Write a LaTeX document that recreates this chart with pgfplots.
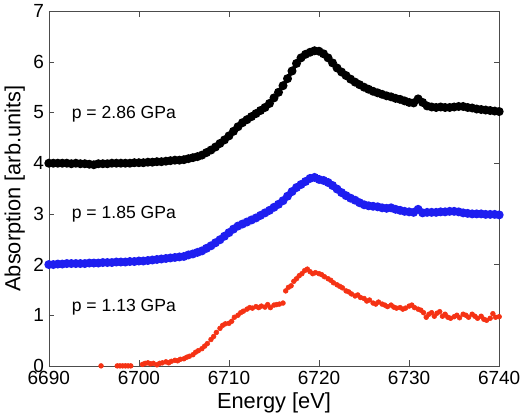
\documentclass[border=0pt]{standalone}
\usepackage{pgfplots}
\pgfplotsset{compat=1.18}
\usepackage{fontspec}
\setmainfont{Liberation Sans}
\definecolor{mblue}{RGB}{30,30,240}
\definecolor{mred}{RGB}{245,50,20}

\begin{document}
\begin{tikzpicture}
\begin{axis}[
  width=320pt, height=252pt, scale only axis,
  xmin=6690, xmax=6740, ymin=0, ymax=7,
  xtick={6690,6700,...,6740}, ytick={0,1,...,7},
  tick align=inside, tick pos=both,
  major tick length=4pt,
  axis line style={black!70},
  tick style={black!70},
  /pgf/number format/assume math mode=true,
  /pgf/number format/1000 sep={},
  tick label style={font=\fontsize{13.5}{15}\selectfont},
  label style={font=\fontsize{15.5}{17}\selectfont},
  xlabel={Energy [eV]}, ylabel={Absorption [arb.units]},
  xlabel style={yshift=1pt}, ylabel style={yshift=-1pt},
  clip=false,
]
\addplot[black, line width=2.8pt, mark=*, mark size=1.7pt] coordinates {
(6690,4.00) (6690.5,4.00) (6691,4.00) (6691.5,4.00) (6692,4.00) (6692.5,3.99)
(6693,4.00) (6693.5,3.99) (6694,3.99) (6694.5,3.98) (6695,3.97) (6695.5,3.99)
(6696,3.99) (6696.5,3.99) (6697,4.00) (6697.5,4.00) (6698,4.00) (6698.5,4.00)
(6699,4.00) (6699.5,4.01) (6700,4.01) (6700.5,4.01) (6701,4.02) (6701.5,4.02)
(6702,4.03) (6702.5,4.03) (6703,4.04) (6703.5,4.05) (6704,4.06) (6704.5,4.06)
(6705,4.07) (6705.5,4.09) (6706,4.11) (6706.5,4.13) (6707,4.16) (6707.5,4.21)
(6708,4.26) (6708.5,4.32) (6709,4.39) (6709.5,4.46) (6710,4.54) (6710.5,4.63)
(6711,4.72) (6711.5,4.80) (6712,4.86) (6712.5,4.92) (6713,4.98) (6713.5,5.04)
(6714,5.10) (6714.5,5.18) (6715,5.29) (6715.5,5.40) (6716,5.53) (6716.5,5.67)
(6717,5.82) (6717.5,5.97) (6718,6.08) (6718.5,6.15) (6719,6.19) (6719.5,6.22)
(6720,6.21) (6720.5,6.16) (6721,6.08) (6721.5,5.98) (6722,5.88) (6722.5,5.80)
(6723,5.73) (6723.5,5.66) (6724,5.60) (6724.5,5.55) (6725,5.50) (6725.5,5.46)
(6726,5.42) (6726.5,5.39) (6727,5.36) (6727.5,5.33) (6728,5.31) (6728.5,5.28)
(6729,5.26) (6729.5,5.23) (6730,5.20) (6730.5,5.19) (6731,5.27) (6731.5,5.20)
(6732,5.13) (6732.5,5.11) (6733,5.10) (6733.5,5.11) (6734,5.10) (6734.5,5.10)
(6735,5.11) (6735.5,5.12) (6736,5.12) (6736.5,5.10) (6737,5.09) (6737.5,5.07)
(6738,5.06) (6738.5,5.05) (6739,5.04) (6739.5,5.03) (6740,5.02)
};
\addplot[mblue, line width=2.8pt, mark=*, mark size=1.7pt] coordinates {
(6690,2.00) (6690.5,2.00) (6691,2.01) (6691.5,2.01) (6692,2.02) (6692.5,2.02)
(6693,2.02) (6693.5,2.02) (6694,2.02) (6694.5,2.03) (6695,2.03) (6695.5,2.03)
(6696,2.04) (6696.5,2.04) (6697,2.04) (6697.5,2.05) (6698,2.05) (6698.5,2.05)
(6699,2.06) (6699.5,2.06) (6700,2.07) (6700.5,2.07) (6701,2.08) (6701.5,2.09)
(6702,2.10) (6702.5,2.11) (6703,2.12) (6703.5,2.13) (6704,2.14) (6704.5,2.15)
(6705,2.16) (6705.5,2.19) (6706,2.21) (6706.5,2.24) (6707,2.27) (6707.5,2.32)
(6708,2.37) (6708.5,2.43) (6709,2.49) (6709.5,2.56) (6710,2.63) (6710.5,2.70)
(6711,2.76) (6711.5,2.80) (6712,2.84) (6712.5,2.88) (6713,2.92) (6713.5,2.97)
(6714,3.02) (6714.5,3.07) (6715,3.13) (6715.5,3.19) (6716,3.26) (6716.5,3.35)
(6717,3.44) (6717.5,3.52) (6718,3.58) (6718.5,3.64) (6719,3.70) (6719.5,3.72)
(6720,3.68) (6720.5,3.66) (6721,3.62) (6721.5,3.56) (6722,3.49) (6722.5,3.42)
(6723,3.36) (6723.5,3.31) (6724,3.27) (6724.5,3.22) (6725,3.18) (6725.5,3.16)
(6726,3.15) (6726.5,3.14) (6727,3.12) (6727.5,3.11) (6728,3.12) (6728.5,3.09)
(6729,3.07) (6729.5,3.05) (6730,3.04) (6730.5,3.03) (6731,3.09) (6731.5,3.02)
(6732,3.03) (6732.5,3.03) (6733,3.03) (6733.5,3.04) (6734,3.04) (6734.5,3.05)
(6735,3.05) (6735.5,3.04) (6736,3.02) (6736.5,3.01) (6737,3.00) (6737.5,3.00)
(6738,3.00) (6738.5,2.99) (6739,2.99) (6739.5,2.99) (6740,2.98)
};
\addplot[mred, only marks, mark=*, mark size=1.7pt] coordinates {
(6695.8,0.00) (6697.6,0.00) (6697.9,0.00) (6698.2,0.00) (6698.5,0.00) (6698.8,0.00)
(6699.1,0.00) (6700.4,0.03) (6700.7,0.05) (6701.0,0.06) (6701.3,0.04) (6701.6,0.05)
(6702.0,0.02) (6702.3,0.05) (6702.6,0.06) (6703.0,0.08) (6703.3,0.06) (6703.6,0.09)
(6704.0,0.11) (6704.3,0.10) (6704.6,0.13) (6705.0,0.14) (6705.3,0.17) (6705.6,0.19)
(6706.0,0.22) (6706.3,0.27) (6706.6,0.30) (6707.0,0.34) (6707.3,0.39) (6707.6,0.44)
(6708.0,0.52) (6708.3,0.58) (6708.6,0.66) (6709.0,0.74) (6709.3,0.80) (6709.6,0.83)
(6710.0,0.84) (6710.3,0.88) (6710.6,0.96) (6711.0,1.00) (6711.3,1.05) (6711.6,1.08)
(6712.0,1.12) (6712.3,1.15) (6712.6,1.14) (6713.0,1.17) (6713.3,1.15) (6713.6,1.18)
(6714.0,1.16) (6714.3,1.21) (6714.6,1.15) (6715.0,1.20) (6715.3,1.21) (6715.6,1.22)
(6716.0,1.24) (6716.3,1.48) (6716.6,1.55) (6716.9,1.58) (6717.2,1.67) (6717.5,1.72)
(6717.8,1.78) (6718.1,1.82) (6718.4,1.88) (6718.7,1.91) (6719.0,1.86) (6719.3,1.82)
(6719.6,1.84) (6720.0,1.82) (6720.3,1.80) (6720.6,1.76) (6721.0,1.72) (6721.3,1.69)
(6721.6,1.64) (6722.0,1.60) (6722.3,1.57) (6722.6,1.54) (6723.0,1.48) (6723.3,1.46)
(6723.6,1.42) (6724.0,1.38) (6724.3,1.40) (6724.6,1.35) (6725.0,1.33) (6725.3,1.28)
(6725.6,1.30) (6726.0,1.24) (6726.3,1.22) (6726.6,1.26) (6727.0,1.22) (6727.3,1.20)
(6727.6,1.17) (6728.0,1.20) (6728.3,1.16) (6728.6,1.14) (6729.0,1.15) (6729.3,1.12)
(6729.6,1.14) (6730.0,1.18) (6730.3,1.20) (6730.6,1.15) (6731.0,1.12) (6731.3,1.10)
(6731.6,1.05) (6731.9,0.96) (6732.2,1.02) (6732.5,1.05) (6732.8,0.98) (6733.1,1.04)
(6733.4,1.07) (6733.7,0.98) (6734.0,1.02) (6734.3,0.96) (6734.6,0.94) (6735.0,0.97)
(6735.3,1.00) (6735.6,0.95) (6736.0,1.02) (6736.3,1.00) (6736.6,0.96) (6737.0,1.02)
(6737.3,0.98) (6737.6,0.94) (6738.0,0.98) (6738.3,0.92) (6738.6,0.90) (6739.0,0.94)
(6739.3,1.03) (6739.6,0.96) (6740.0,0.97)
};
\node[anchor=west, font=\fontsize{12.5}{14}\selectfont] at (axis cs:6692,4.97) {p = 2.86 GPa};
\node[anchor=west, font=\fontsize{12.5}{14}\selectfont] at (axis cs:6692,2.99) {p = 1.85 GPa};
\node[anchor=west, font=\fontsize{12.5}{14}\selectfont] at (axis cs:6692,1.16) {p = 1.13 GPa};
\end{axis}
\end{tikzpicture}
\end{document}
